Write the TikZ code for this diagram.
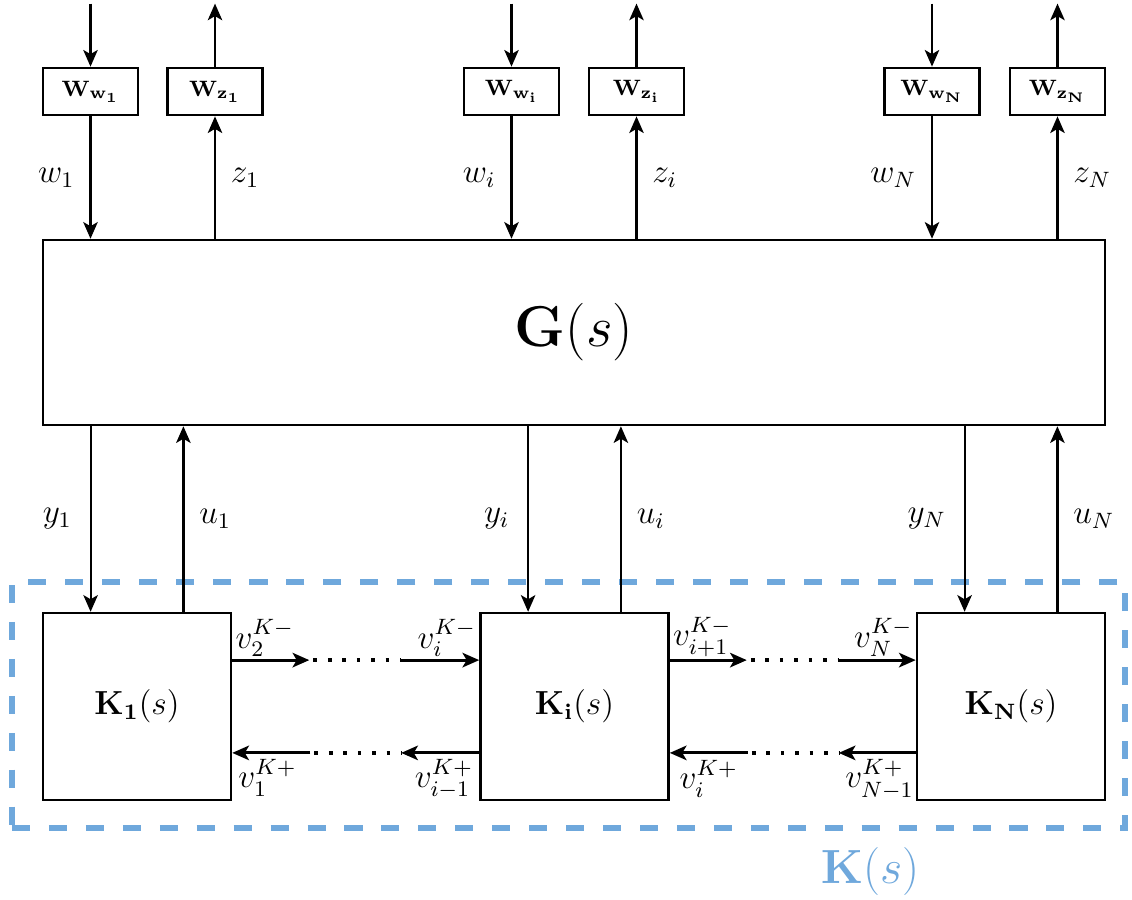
\documentclass[tikz,border=0pt]{standalone}
\usepackage{amsmath,amssymb}
\usepackage{xcolor}
\usepackage{tikz}
\usetikzlibrary{arrows.meta,calc}
\definecolor{ctrlblue}{HTML}{6FA8DC}

\begin{document}
\begin{tikzpicture}[
    x=0.36pt, y=-0.36pt,
    block/.style={draw, line width=0.9pt, inner sep=0pt},
    wblock/.style={block, minimum width=34.2pt, minimum height=17pt, font=\footnotesize},
    kblock/.style={block, minimum width=67.7pt, minimum height=67.3pt, font=\large},
    kframe/.style={draw=ctrlblue, line width=1.9pt, dash pattern=on 6.5pt off 6.8pt, minimum width=400.7pt, minimum height=88.6pt, inner sep=0pt},
    sig/.style={-{Stealth[length=6pt,width=5.2pt,inset=1.5pt]}, line width=0.8pt},
    hsig/.style={sig, line width=1.1pt},
    dotline/.style={line width=1.3pt, dash pattern=on 1.3pt off 3.9pt},
    sigtxt/.style={font=\large},
    vup/.style={font=\large, inner sep=1pt},
    vdown/.style={font=\large, inner sep=2pt}
]
\useasboundingbox (0,0) rectangle (1132,900);

\node[kframe] (Kframe) at (568.5,705) {};
\node[font={\fontsize{17pt}{20pt}\selectfont}, text=ctrlblue] (Klabel) at (870,871) {$\mathbf{K}(s)$};

\node[wblock] (Ww1) at (90.5,91.5) {$\mathbf{W}_{\mathbf{w_1}}$};
\node[wblock] (Wz1) at (215,91.5) {$\mathbf{W}_{\mathbf{z_1}}$};
\node[wblock] (Wwi) at (511.5,91.5) {$\mathbf{W}_{\mathbf{w_i}}$};
\node[wblock] (Wzi) at (636.5,91.5) {$\mathbf{W}_{\mathbf{z_i}}$};
\node[wblock] (WwN) at (932,91.5) {$\mathbf{W}_{\mathbf{w_N}}$};
\node[wblock] (WzN) at (1057.5,91.5) {$\mathbf{W}_{\mathbf{z_N}}$};

\node[block, minimum width=382.3pt, minimum height=66.6pt, font=\huge] (G) at (574,332.5) {$\mathbf{G}(s)$};

\node[kblock] (K1) at (137,706.5) {$\mathbf{K_1}(s)$};
\node[kblock] (Ki) at (574.5,706.5) {$\mathbf{K_i}(s)$};
\node[kblock] (KN) at (1011,706.5) {$\mathbf{K_N}(s)$};

% exogenous inputs and performance outputs
\draw[sig] ([yshift=22.7pt]Ww1.north) -- (Ww1.north);
\draw[sig] (Wz1.north) -- ([yshift=22.7pt]Wz1.north);
\draw[sig] ([yshift=22.7pt]Wwi.north) -- (Wwi.north);
\draw[sig] (Wzi.north) -- ([yshift=22.7pt]Wzi.north);
\draw[sig] ([yshift=22.7pt]WwN.north) -- (WwN.north);
\draw[sig] (WzN.north) -- ([yshift=22.7pt]WzN.north);

\draw[sig] (Ww1.south) -- node[sigtxt, left=2pt] {$w_1$} (Ww1.south |- G.north);
\draw[sig] (Wz1.south |- G.north) -- node[sigtxt, right=2pt] {$z_1$} (Wz1.south);
\draw[sig] (Wwi.south) -- node[sigtxt, left=2pt] {$w_i$} (Wwi.south |- G.north);
\draw[sig] (Wzi.south |- G.north) -- node[sigtxt, right=2pt] {$z_i$} (Wzi.south);
\draw[sig] (WwN.south) -- node[sigtxt, left=2pt] {$w_N$} (WwN.south |- G.north);
\draw[sig] (WzN.south |- G.north) -- node[sigtxt, right=2pt] {$z_N$} (WzN.south);

% measurements and control inputs
\coordinate (y1) at ([xshift=-16.7pt]K1.north);
\coordinate (u1) at ([xshift=16.7pt]K1.north);
\coordinate (yi) at ([xshift=-16.7pt]Ki.north);
\coordinate (ui) at ([xshift=16.7pt]Ki.north);
\coordinate (yN) at ([xshift=-16.7pt]KN.north);
\coordinate (uN) at ([xshift=16.7pt]KN.north);

\draw[sig] (G.south -| y1) -- node[sigtxt, left=3pt] {$y_1$} (y1);
\draw[sig] (u1) -- node[sigtxt, right=2pt] {$u_1$} (G.south -| u1);
\draw[sig] (G.south -| yi) -- node[sigtxt, left=3pt] {$y_i$} (yi);
\draw[sig] (ui) -- node[sigtxt, right=2pt] {$u_i$} (G.south -| ui);
\draw[sig] (G.south -| yN) -- node[sigtxt, left=3pt] {$y_N$} (yN);
\draw[sig] (uN) -- node[sigtxt, right=2pt] {$u_N$} (G.south -| uN);

% neighbour communication
\coordinate (a1) at ([yshift=16.7pt]K1.east);
\coordinate (b1) at ([yshift=-16.7pt]K1.east);
\coordinate (a2) at ([yshift=16.7pt]Ki.west);
\coordinate (b2) at ([yshift=-16.7pt]Ki.west);
\coordinate (a3) at ([yshift=16.7pt]Ki.east);
\coordinate (b3) at ([yshift=-16.7pt]Ki.east);
\coordinate (a4) at ([yshift=16.7pt]KN.west);
\coordinate (b4) at ([yshift=-16.7pt]KN.west);

\draw[hsig] (a1) -- ++(77,0) coordinate (d1);
\draw[hsig] ($(a2)+(-78,0)$) coordinate (d2) -- (a2);
\draw[dotline] ([xshift=1.5pt]d1) -- (d2);
\draw[hsig] (b2) -- ++(-78,0) coordinate (e2);
\draw[hsig] ($(b1)+(78,0)$) coordinate (e1) -- (b1);
\draw[dotline] ([xshift=1.5pt]e1) -- (e2);

\draw[hsig] (a3) -- ++(77,0) coordinate (d3);
\draw[hsig] ($(a4)+(-78,0)$) coordinate (d4) -- (a4);
\draw[dotline] ([xshift=1.5pt]d3) -- (d4);
\draw[hsig] (b4) -- ++(-77,0) coordinate (e4);
\draw[hsig] ($(b3)+(78,0)$) coordinate (e3) -- node[below, vdown] {$v_i^{K+}$} (b3);
\draw[dotline] ([xshift=1.5pt]e3) -- (e4);

\node[vup, anchor=south west] (v2m) at (a1) {$v_2^{K-}$};
\node[vup, anchor=south east] (vim) at (a2) {$v_i^{K-}$};
\node[vup, anchor=south west] (vi1m) at (a3) {$v_{i+1}^{K-}$};
\node[vup, anchor=south east] (vNm) at (a4) {$v_N^{K-}$};
\node[vdown, anchor=north west] (v1p) at (b1) {$v_1^{K+}$};
\node[vdown, anchor=north east] (vi1p) at (b2) {$v_{i-1}^{K+}$};
\node[vdown, anchor=north east, inner xsep=0.5pt] (vN1p) at (b4) {$v_{N-1}^{K+}$};
\end{tikzpicture}
\end{document}
